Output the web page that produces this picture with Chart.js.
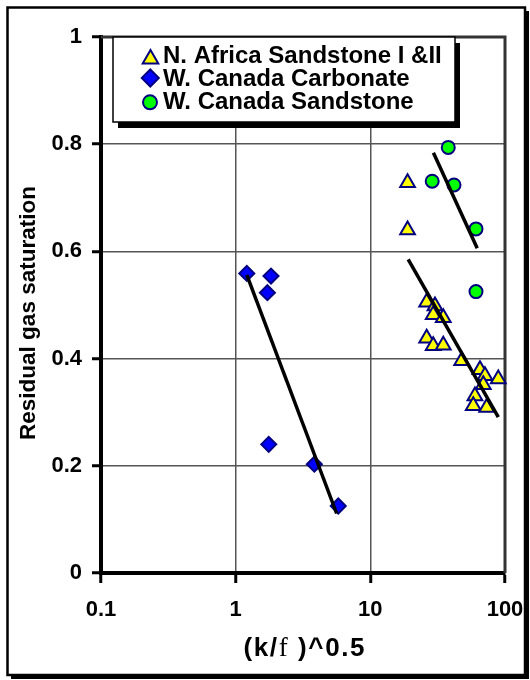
<!DOCTYPE html>
<html><head><meta charset="utf-8">
<script src="https://cdn.jsdelivr.net/npm/chart.js@4/dist/chart.umd.min.js"></script>
<style>html,body{margin:0;padding:0;background:#fff;}#wrap{position:relative;width:530px;height:680px;}</style>
</head><body><div id="wrap"><canvas id="c" width="530" height="680"></canvas></div>
<script>
// ---- data ----
const seriesNames = ['N. Africa Sandstone I &II', 'W. Canada Carbonate', 'W. Canada Sandstone'];
const africaX = [18.9, 18.9, 26.2, 30.2, 29.3, 34.8, 26.2, 29.3, 34.8, 47.7, 65.2, 71.0, 89.1, 69.0, 59.8, 58.1, 73.1];
const africaY = [0.728, 0.640, 0.505, 0.498, 0.482, 0.476, 0.438, 0.424, 0.425, 0.396, 0.379, 0.368, 0.362, 0.351, 0.330, 0.312, 0.309];
const carbX = [1.21, 1.83, 1.72, 1.76, 3.84, 5.78];
const carbY = [0.559, 0.554, 0.523, 0.240, 0.203, 0.125];
const wcsX = [37.9, 28.8, 41.8, 60.9, 60.9];
const wcsY = [0.794, 0.731, 0.724, 0.642, 0.525];
const africaTrendX = [19.1, 89.2];
const africaTrendY = [0.585, 0.291];
const carbTrendX = [1.21, 5.62];
const carbTrendY = [0.556, 0.111];
const wcsTrendX = [29.4, 62.2];
const wcsTrendY = [0.784, 0.606];
const xTicks = [0.1, 1, 10, 100];
const yTicks = [0, 0.2, 0.4, 0.6, 0.8, 1];
const xTitleParts = ['(k/', 'f', ' )^0.5'];
const yTitle = 'Residual gas saturation';

// ---- build ----
const pts = (xs, ys) => xs.map((x, i) => ({x: x, y: ys[i]}));
const SANS = "'Liberation Sans', Arial, sans-serif";
const SERIF = "'Liberation Serif', 'Times New Roman', serif";
const NAVY = '#000080';
const markerStyles = [
  {pointStyle: 'triangle', bg: '#ffff00', r: 8.5},
  {pointStyle: 'rectRot', bg: '#0000ff', r: 7.5},
  {pointStyle: 'circle', bg: '#00ff00', r: 6.5}
];

function scatterSet(i, xs, ys) {
  const m = markerStyles[i];
  return {type: 'scatter', label: seriesNames[i], data: pts(xs, ys), pointStyle: m.pointStyle,
    pointRadius: m.r, pointHoverRadius: m.r, backgroundColor: m.bg, borderColor: NAVY,
    pointBorderWidth: 2, borderWidth: 2, showLine: false, clip: false, order: 1};
}
function trendSet(xs, ys) {
  return {type: 'line', label: '', data: pts(xs, ys), borderColor: '#000', borderWidth: 3.5,
    pointRadius: 0, fill: false, tension: 0, clip: false, order: 0};
}

function drawMarker(ctx, style, x, y, r, bg) {
  ctx.save();
  ctx.fillStyle = bg; ctx.strokeStyle = NAVY; ctx.lineWidth = 2;
  ctx.beginPath();
  if (style === 'triangle') {
    for (let k = 0; k < 3; k++) {
      const a = k * 2 * Math.PI / 3;
      const px = x + Math.sin(a) * r, py = y - Math.cos(a) * r;
      k ? ctx.lineTo(px, py) : ctx.moveTo(px, py);
    }
    ctx.closePath();
  } else if (style === 'rectRot') {
    ctx.moveTo(x - r, y); ctx.lineTo(x, y - r); ctx.lineTo(x + r, y); ctx.lineTo(x, y + r); ctx.closePath();
  } else {
    ctx.arc(x, y, r, 0, Math.PI * 2);
  }
  ctx.fill(); ctx.stroke();
  ctx.restore();
}

const decor = {
  id: 'decor',
  beforeDatasetsDraw(chart) {
    const ctx = chart.ctx, a = chart.chartArea;
    ctx.save();
    ctx.strokeStyle = '#333'; ctx.lineWidth = 3;
    ctx.beginPath(); ctx.moveTo(a.left, a.top); ctx.lineTo(a.right, a.top); ctx.lineTo(a.right, a.bottom); ctx.stroke();
    ctx.restore();
  },
  afterDraw(chart) {
    const ctx = chart.ctx;
    ctx.save();
    // outer frame with shadow
    ctx.fillStyle = '#000';
    ctx.fillRect(526, 11, 3, 668);
    ctx.fillRect(11, 676, 518, 3);
    ctx.strokeStyle = '#000'; ctx.lineWidth = 2.5;
    ctx.strokeRect(7.5, 7.5, 517.5, 667.5);

    // legend box with shadow
    const lx = 113, ly = 37, lw = 342, lh = 85;
    ctx.fillStyle = '#000';
    ctx.fillRect(lx + 5, ly + 6, lw, lh);
    ctx.fillStyle = '#fff';
    ctx.fillRect(lx, ly, lw, lh);
    ctx.strokeStyle = '#000'; ctx.lineWidth = 1.5;
    ctx.strokeRect(lx, ly, lw, lh);
    const rowsY = [55, 78, 101];
    const mk = [[150.5, 59, 9], [150.3, 78, 8.5], [150, 102.3, 7]];
    ctx.font = 'bold 24px ' + SANS;
    ctx.textBaseline = 'middle'; ctx.textAlign = 'left';
    for (let i = 0; i < 3; i++) {
      drawMarker(ctx, markerStyles[i].pointStyle, mk[i][0], mk[i][1], mk[i][2], markerStyles[i].bg);
      ctx.fillStyle = '#000';
      ctx.fillText(seriesNames[i], 163, rowsY[i] + 1);
    }

    // y title
    ctx.save();
    ctx.translate(29, 313);
    ctx.rotate(-Math.PI / 2);
    ctx.font = 'bold 22.5px ' + SANS;
    ctx.textAlign = 'center'; ctx.textBaseline = 'middle';
    ctx.fillStyle = '#000';
    ctx.fillText(yTitle, 0, 0);
    ctx.restore();

    // x title (mixed fonts, slightly spaced)
    const fonts = ['bold 26px ' + SANS, '27px ' + SERIF, 'bold 26px ' + SANS];
    const gap = 1.6;
    const chars = [];
    xTitleParts.forEach((t, i) => { for (const ch of t) chars.push([ch, fonts[i]]); });
    let total = 0;
    chars.forEach(c => { ctx.font = c[1]; c.push(ctx.measureText(c[0]).width); total += c[2] + gap; });
    total -= gap;
    let x = 304 - total / 2;
    ctx.textAlign = 'left'; ctx.textBaseline = 'alphabetic'; ctx.fillStyle = '#000';
    chars.forEach(c => { ctx.font = c[1]; ctx.fillText(c[0], x, 656); x += c[2] + gap; });
    ctx.restore();
  }
};

const tickFont = {family: SANS, size: 22, weight: 'bold'};

new Chart(document.getElementById('c'), {
  data: {
    datasets: [
      scatterSet(0, africaX, africaY),
      scatterSet(1, carbX, carbY),
      scatterSet(2, wcsX, wcsY),
      trendSet(africaTrendX, africaTrendY),
      trendSet(carbTrendX, carbTrendY),
      trendSet(wcsTrendX, wcsTrendY)
    ]
  },
  options: {
    responsive: false, animation: false, devicePixelRatio: 1,
    layout: {padding: {left: 8, right: 25, top: 37, bottom: 10}},
    plugins: {legend: {display: false}, tooltip: {enabled: false}, title: {display: false}},
    scales: {
      x: {
        type: 'logarithmic', position: 'bottom', min: 0.1, max: 100,
        afterBuildTicks: s => { s.ticks = xTicks.map(v => ({value: v})); },
        afterFit: s => { s.height = 680 - 573 - 10; s.paddingLeft = 0; s.paddingRight = 0; },
        ticks: {font: tickFont, color: '#000', padding: 14, maxRotation: 0, autoSkip: false,
          callback: v => String(v)},
        grid: {color: '#555', lineWidth: 1.5, tickColor: '#000', tickWidth: 3, tickLength: 10, drawTicks: true},
        border: {display: true, color: '#000', width: 4},
        title: {display: false}
      },
      y: {
        type: 'linear', position: 'left', min: 0, max: 1,
        afterBuildTicks: s => { s.ticks = yTicks.map(v => ({value: v})); },
        afterFit: s => { s.width = 101 - 8; s.paddingTop = 0; s.paddingBottom = 0; },
        ticks: {font: tickFont, color: '#000', padding: 10, autoSkip: false,
          callback: v => String(+(+v).toFixed(1))},
        grid: {color: '#555', lineWidth: 1.5, tickColor: '#000', tickWidth: 3, tickLength: 9, drawTicks: true},
        border: {display: true, color: '#000', width: 4},
        title: {display: false}
      }
    }
  },
  plugins: [decor]
});
</script>
</body></html>
